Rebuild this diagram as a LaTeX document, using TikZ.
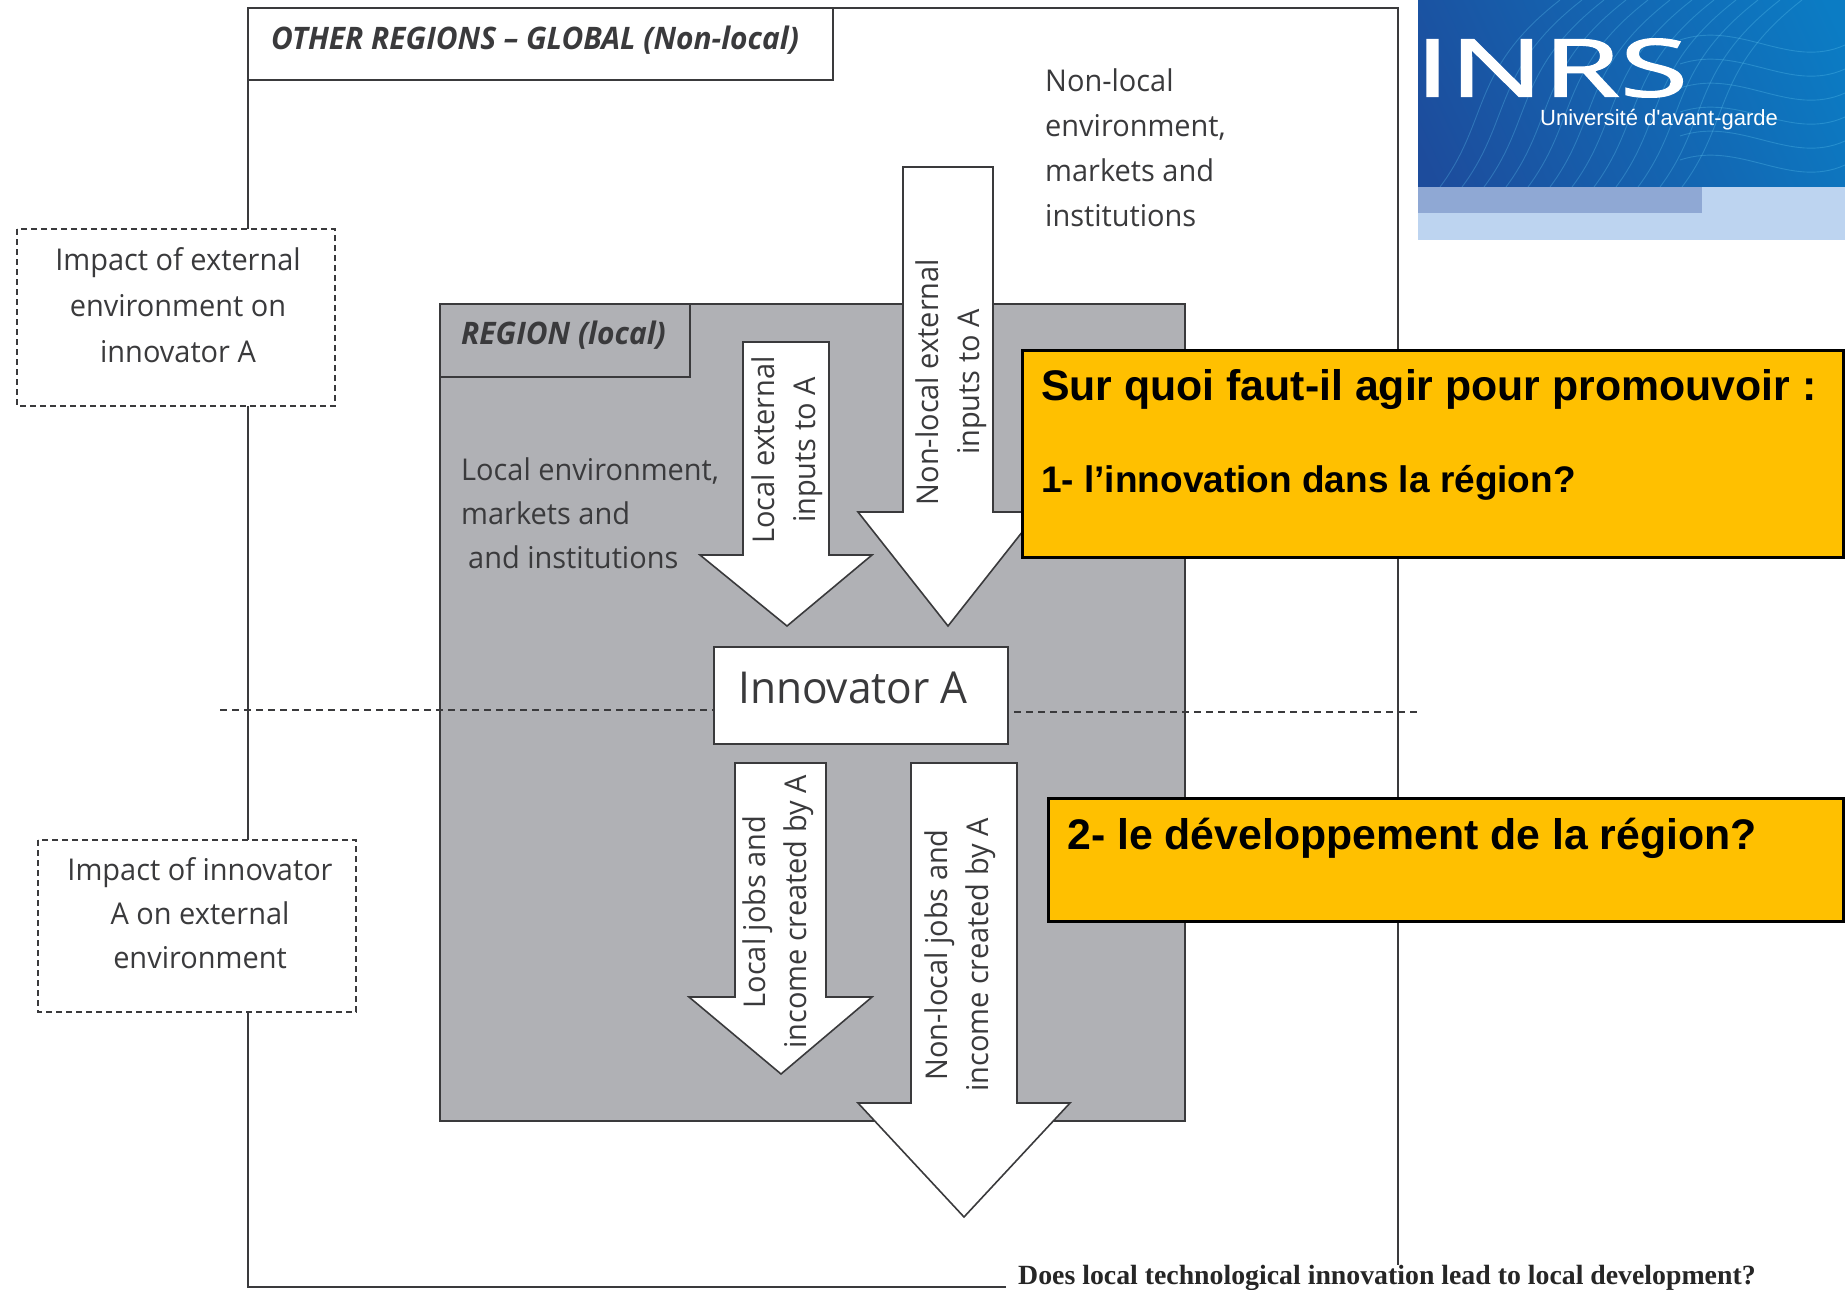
\documentclass[tikz,border=0pt]{standalone}
\usepackage{fontspec}
\setmainfont[FakeStretch=0.965]{Open Sans}
\newfontfamily\logof[FakeBold=1.6]{Open Sans}
\newfontfamily\arialf{Liberation Sans}
\newfontfamily\timesf{Liberation Serif}
\newcommand{\fs}[2]{\fontsize{#1}{#2}\selectfont}
\definecolor{ink}{HTML}{3A3A3C}
\definecolor{regiongray}{HTML}{B0B1B5}
\definecolor{callout}{HTML}{FFC000}
\definecolor{logolight}{HTML}{BDD4F0}
\definecolor{logoband}{HTML}{8FA8D4}
\definecolor{logodark}{HTML}{1D4C9C}
\definecolor{logomid}{HTML}{0B7CC4}
\tikzset{
  frameline/.style={draw=ink,line width=1.6pt},
  bigarrow/.style={draw=ink,line width=1.6pt,fill=white,line join=miter},
  dashbox/.style={draw=ink,line width=1.5pt,dash pattern=on 6pt off 4pt,fill=white},
  midline/.style={draw=ink,line width=1.3pt,dash pattern=on 7pt off 5pt},
  calloutbox/.style={draw=black,line width=3pt,fill=callout},
  body/.style={text=ink,inner sep=0pt},
  rottext/.style={text=ink,font=\fs{30}{41},inner sep=0pt,rotate=90,align=center},
  calltext/.style={text=black,inner sep=0pt,anchor=west},
  contour/.style={draw=cyan!60!white,opacity=0.28,line width=0.9pt}
}
\begin{document}
\begin{tikzpicture}[x=1pt,y=-1pt]
\useasboundingbox (0,0) rectangle (1845,1290);
% outer frame
\coordinate (frBL) at (248,1287);
\coordinate (frBR) at (1006,1287);
\coordinate (frTL) at (248,8);
\coordinate (frTR) at (1398,8);
\coordinate (frRE) at (1398,1265);
\draw[frameline] (frBR) -- (frBL) -- (frTL) -- (frTR) -- (frRE);
\draw[frameline] (248,8) rectangle (833,80);
\node[anchor=west,text=ink,inner sep=0pt,font=\fs{31}{36}\bfseries\itshape] at (271,40) {OTHER REGIONS -- GLOBAL (Non-local)};
% logo
\begin{scope}
\clip (1418,0) rectangle (1845,187);
\shade[left color=logodark,right color=logomid,shading angle=115] (1418,-130) rectangle (1845,317);
\foreach \d in {0,22,...,260}{
  \draw[contour] (1440+\d,187) .. controls (1490+\d,120) and (1470+\d,70) .. (1560+\d,0);
}
\foreach \d in {0,24,...,120}{
  \draw[contour] (1680,40+\d) .. controls (1740,20+\d) and (1790,70+\d) .. (1845,45+\d);
}
\end{scope}
\fill[logolight] (1418,187) rectangle (1845,240);
\fill[logoband] (1418,187) rectangle (1702,213);
\node[text=white,inner sep=0pt,anchor=west,font=\logof\fs{80}{80}] at (1415,68) {\scalebox{1.55}[1]{INRS}};
\node[text=white,inner sep=0pt,anchor=west,font=\arialf\fs{22}{26}] at (1540,120) {Université d'avant-garde};
% region
\draw[frameline,fill=regiongray] (440,304) rectangle (1185,1121);
\draw[frameline,fill=regiongray] (440,304) rectangle (690,377);
\node[anchor=west,text=ink,inner sep=0pt,font=\fs{31}{36}\bfseries\itshape] at (461,335) {REGION (local)};
% arrows
\draw[bigarrow] (743,342) -- (829,342) -- (829,555) -- (872,555) -- (787,626) -- (700,555) -- (743,555) -- cycle;
\draw[bigarrow] (903,167) -- (993,167) -- (993,512) -- (1038,512) -- (948,626) -- (858,512) -- (903,512) -- cycle;
\draw[bigarrow] (735,763) -- (826,763) -- (826,997) -- (872,997) -- (781,1074) -- (689,997) -- (735,997) -- cycle;
\draw[bigarrow] (911,763) -- (1017,763) -- (1017,1103) -- (1070,1103) -- (964,1217) -- (858,1103) -- (911,1103) -- cycle;
% dashed mid line
\draw[midline] (220,710) -- (714,710);
\draw[midline] (1014,712) -- (1418,712);
% innovator
\node[draw=ink,line width=1.6pt,fill=white,minimum width=294pt,minimum height=97pt,inner sep=0pt] (innov) at (861,695.5) {};
\node[text=ink,inner sep=0pt,anchor=west,font=\fs{44}{50}] at (738,688) {Innovator A};
% dashed boxes
\draw[dashbox] (17,229) rectangle (335,406);
\node[body,align=center,font=\fs{30}{46}] at (178,305) {Impact of external\\environment on\\innovator A};
\draw[dashbox] (38,840) rectangle (356,1012);
\node[body,align=center,font=\fs{30}{44}] at (200,913) {Impact of innovator\\A on external\\environment};
% free labels
\node[body,anchor=west,align=left,font=\fs{30}{45}] at (1045,148) {Non-local\\environment,\\markets and\\institutions};
\node[body,anchor=west,align=left,font=\fs{30}{44}] at (461,513) {Local environment,\\markets and\\\hspace*{7pt}and institutions};
% rotated labels
\node[rottext] at (787,450) {Local external\\inputs to A};
\node[rottext] at (951,382) {Non-local external\\inputs to A};
\node[rottext] at (778,912) {Local jobs and\\income created by A};
\node[rottext] at (960,955) {Non-local jobs and\\income created by A};
% callouts
\draw[calloutbox] (1022,350) rectangle (1843,557);
\node[calltext,font=\arialf\bfseries\fs{42.8}{50}] at (1041,390) {Sur quoi faut-il agir pour promouvoir :};
\node[calltext,font=\arialf\bfseries\fs{37}{44}] at (1041,483) {1- l’innovation dans la région?};
\draw[calloutbox] (1048,798) rectangle (1843,921);
\node[calltext,font=\arialf\bfseries\fs{42.8}{50}] at (1067,838) {2- le développement de la région?};
% caption
\node[anchor=west,inner sep=0pt,text=black!85,font=\timesf\bfseries\fs{27.8}{30}] at (1018,1278) {Does local technological innovation lead to local development?};
\end{tikzpicture}
\end{document}
